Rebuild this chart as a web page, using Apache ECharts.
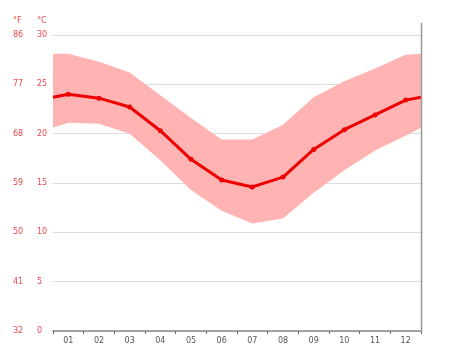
<!DOCTYPE html>
<html><head><meta charset="utf-8">
<script src="https://cdn.jsdelivr.net/npm/echarts@6/dist/echarts.min.js"></script>
<style>html,body{margin:0;padding:0;background:#fff}#c{width:474px;height:355px}</style>
</head><body><div id="c"></div>
<script>
const months = ['01','02','03','04','05','06','07','08','09','10','11','12'];
const meanC = [24.0, 23.6, 22.7, 20.3, 17.4, 15.3, 14.6, 15.6, 18.4, 20.4, 21.9, 23.4];
const maxC  = [28.1, 27.3, 26.2, 23.9, 21.6, 19.4, 19.4, 20.9, 23.7, 25.3, 26.6, 28.0];
const minC  = [21.1, 21.0, 20.0, 17.3, 14.3, 12.2, 10.9, 11.4, 14.0, 16.3, 18.3, 19.8];
// values at the left/right chart edges
const meanEdge = 23.7;
const maxEdge = 28.1;
const minEdge = 20.6;
const celsiusTicks = [0, 5, 10, 15, 20, 25, 30];
const fahrenheitTicks = ['32', '41', '50', '59', '68', '77', '86'];

const xs = [0.5].concat(months.map((m, i) => i + 1), [months.length + 0.5]);
const meanFull = [meanEdge].concat(meanC, [meanEdge]);
const maxFull = [maxEdge].concat(maxC, [maxEdge]);
const minFull = [minEdge].concat(minC, [minEdge]);

const bandData = xs.map((x, i) => [x, minFull[i], maxFull[i]]);
const meanData = xs.map((x, i) => {
  const d = { value: [x, meanFull[i]] };
  if (i === 0 || i === xs.length - 1) d.symbol = 'none';
  return d;
});

const red = '#e8474c';
const chart = echarts.init(document.getElementById('c'), null, { renderer: 'canvas' });
chart.setOption({
  animation: false,
  grid: { left: 53, right: 53, top: 35, bottom: 24 },
  xAxis: [
    {
      type: 'category', data: months, boundaryGap: true,
      axisLine: { lineStyle: { color: '#888', width: 1.5 } },
      axisTick: { show: true, length: 3, lineStyle: { color: '#666' } },
      axisLabel: { color: '#555', fontSize: 8, margin: 6, fontFamily: 'DejaVu Sans' },
      splitLine: { show: false }
    },
    {
      type: 'value', min: 0.5, max: 12.5, show: false, position: 'bottom'
    }
  ],
  yAxis: [
    {
      type: 'value', min: 0, max: 30, interval: 5, position: 'left',
      axisLine: { show: false }, axisTick: { show: false },
      axisLabel: { color: red, fontSize: 8, align: 'left', margin: 16, fontFamily: 'DejaVu Sans',
        formatter: v => String(v) },
      splitLine: { show: true, lineStyle: { color: '#dddddd', width: 1 } }
    },
    {
      type: 'value', min: 0, max: 30, interval: 5, position: 'left', offset: 0,
      axisLine: { show: false }, axisTick: { show: false },
      axisLabel: { color: red, fontSize: 8, align: 'left', margin: 40, fontFamily: 'DejaVu Sans',
        formatter: v => { const i = celsiusTicks.indexOf(v); return i >= 0 ? fahrenheitTicks[i] : ''; } },
      splitLine: { show: false }
    }
  ],
  graphic: [
    { type: 'text', left: 37, top: 17, style: { text: '°C', fill: red, fontSize: 8, fontFamily: 'DejaVu Sans' } },
    { type: 'text', left: 13, top: 17, style: { text: '°F', fill: red, fontSize: 8, fontFamily: 'DejaVu Sans' } },
    { type: 'line', shape: { x1: 421.5, y1: 23, x2: 421.5, y2: 332 }, style: { stroke: '#999', lineWidth: 1.5 }, z: 10 }
  ],
  series: [
    {
      type: 'custom', xAxisIndex: 1, yAxisIndex: 0, data: bandData, z: 2,
      encode: { x: 0, y: [1, 2] },
      renderItem: function (params, api) {
        if (params.dataIndex !== 0) return null;
        const top = bandData.map(d => api.coord([d[0], d[2]]));
        const bottom = bandData.slice().reverse().map(d => api.coord([d[0], d[1]]));
        return {
          type: 'polygon',
          shape: { points: top.concat(bottom) },
          style: { fill: '#ffb3b3' }
        };
      }
    },
    {
      type: 'line', xAxisIndex: 1, yAxisIndex: 0, data: meanData,
      symbol: 'circle', symbolSize: 5, itemStyle: { color: '#ee0000' },
      lineStyle: { color: '#ee0000', width: 3 }, z: 3
    }
  ]
});
</script></body></html>
